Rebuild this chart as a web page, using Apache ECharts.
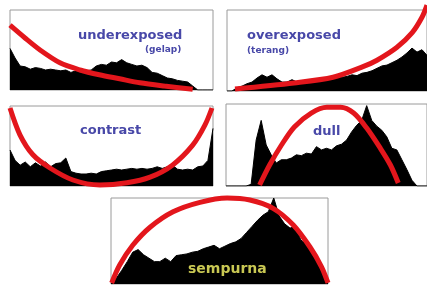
<!DOCTYPE html>
<html>
<head>
<meta charset="utf-8">
<script src="https://cdn.jsdelivr.net/npm/echarts@6/dist/echarts.min.js"></script>
<style>
    html, body { margin: 0; padding: 0; background: #fff; }
    #main { width: 427px; height: 287px; }
</style>
</head>
<body>
<div id="main"></div>
<script>
// histogram heights (percent of box height), evenly spaced across the box
var histUnder = [52, 40, 30, 29, 26, 28, 27, 25, 26, 25, 24, 25, 22, 24, 22, 24, 25, 30, 32, 31, 35,
    34, 38, 34, 32, 30, 31, 28, 22, 21, 18, 15, 14, 12, 11, 10, 5, 0, 0, 0, 0];
var histOver = [0, 0, 4, 6, 9, 11, 16, 20, 17, 20, 15, 11, 11, 14, 11, 12, 13, 12, 14, 13, 15,
    16, 16, 17, 18, 20, 19, 22, 23, 25, 28, 31, 32, 35, 38, 42, 47, 53, 48, 51, 44];
var histContrast = [45, 32, 26, 30, 24, 29, 25, 30, 24, 28, 29, 35, 18, 16, 15, 15, 16, 15, 18, 19, 20,
    21, 20, 21, 22, 21, 22, 21, 22, 24, 22, 24, 26, 21, 20, 21, 20, 24, 25, 32, 72];
var histDull = [0, 0, 0, 0, 0, 2, 56, 80, 50, 38, 28, 32, 32, 34, 38, 37, 40, 39, 48, 44, 46,
    44, 49, 51, 56, 66, 74, 80, 98, 80, 73, 68, 60, 46, 44, 32, 20, 7, 0, 0, 0];
var histPerfect = [0, 7, 16, 26, 37, 40, 34, 30, 26, 26, 30, 26, 33, 34, 35, 37, 38, 41, 43, 45, 41,
    44, 47, 49, 53, 60, 67, 74, 80, 84, 100, 79, 70, 65, 67, 51, 47, 37, 28, 19, 5];

// red curves [x, y] in percent of box
var curveUnder = [[0, 81], [7.4, 65], [14.8, 50], [24.6, 34], [34.5, 25], [44, 19], [54, 14], [64, 9], [76, 5], [90, 1]];
var curveOver = [[4, 2.5], [33.5, 10], [53, 17], [68, 30], [75, 38], [85, 54], [92.6, 72], [97.5, 91], [100, 106]];
var curveContrast = [[0, 97.5], [4.9, 64], [11.3, 39], [19.7, 22.5], [31, 7.5], [44.3, 1.2], [57.6, 4], [69, 11],
    [80, 26], [90, 51], [96, 76], [99.5, 97.5]];
var curveDull = [[16.7, 1.2], [21.7, 25.6], [27.6, 50], [34, 72], [42.4, 89], [50.2, 96], [57, 96], [63.5, 89],
    [70, 70.7], [76.8, 46], [81.8, 25.6], [85.7, 3.7]];
var curvePerfect = [[0.3, 1.2], [4, 22], [10, 45], [18, 66], [28.6, 84], [41, 95], [53.5, 100], [64, 97.7],
    [74.7, 88], [84, 68.6], [91.7, 43], [97, 20], [100, 1.2]];

var panels = [
    {hist: histUnder, curve: curveUnder, grid: {left: 10, top: 10, width: 203, height: 80}},
    {hist: histOver, curve: curveOver, grid: {left: 227, top: 10, width: 203, height: 81}},
    {hist: histContrast, curve: curveContrast, grid: {left: 10, top: 106, width: 203, height: 80}},
    {hist: histDull, curve: curveDull, grid: {left: 226, top: 104, width: 203, height: 82}},
    {hist: histPerfect, curve: curvePerfect, grid: {left: 111, top: 198, width: 217, height: 86}}
];

var grids = [], xAxes = [], yAxes = [], series = [];
panels.forEach(function (p, i) {
    var g = p.grid;
    g.show = true;
    g.borderColor = '#9a9a9a';
    g.borderWidth = 1;
    g.backgroundColor = '#fff';
    grids.push(g);
    xAxes.push({type: 'value', gridIndex: i, min: 0, max: 100, show: false});
    yAxes.push({type: 'value', gridIndex: i, min: 0, max: 100, show: false});

    var step = 100 / (p.hist.length - 1);
    // 黑色直方图
    series.push({
        type: 'line',
        xAxisIndex: i,
        yAxisIndex: i,
        data: p.hist.map(function (v, k) { return [k * step, v]; }),
        showSymbol: false,
        lineStyle: {color: '#000', width: 1},
        areaStyle: {color: '#000', opacity: 1},
        silent: true,
        z: 2
    });
    // 红色曲线
    series.push({
        type: 'line',
        xAxisIndex: i,
        yAxisIndex: i,
        data: p.curve,
        smooth: 0.3,
        showSymbol: false,
        clip: false,
        lineStyle: {color: '#e3161c', width: 5},
        silent: true,
        z: 3
    });
});

var blue = '#4848a8';
var option = {
    animation: false,
    grid: grids,
    xAxis: xAxes,
    yAxis: yAxes,
    series: series,
    graphic: [
        {type: 'text', left: 78, top: 29, z: 10, style: {text: 'underexposed', fill: blue, font: 'bold 13px "DejaVu Sans"'}},
        {type: 'text', left: 145, top: 45, z: 10, style: {text: '(gelap)', fill: blue, font: 'bold 9px "DejaVu Sans"'}},
        {type: 'text', left: 247, top: 29, z: 10, style: {text: 'overexposed', fill: blue, font: 'bold 13px "DejaVu Sans"'}},
        {type: 'text', left: 247, top: 46, z: 10, style: {text: '(terang)', fill: blue, font: 'bold 9px "DejaVu Sans"'}},
        {type: 'text', left: 80, top: 124, z: 10, style: {text: 'contrast', fill: blue, font: 'bold 13px "DejaVu Sans"'}},
        {type: 'text', left: 313, top: 125, z: 10, style: {text: 'dull', fill: blue, font: 'bold 13px "DejaVu Sans"'}},
        {type: 'text', left: 188, top: 262, z: 10, style: {text: 'sempurna', fill: '#c9c853', font: 'bold 14px "DejaVu Sans"'}}
    ]
};

//初始化echarts实例
var myChart = echarts.init(document.getElementById('main'));
myChart.setOption(option);
</script>
</body>
</html>
